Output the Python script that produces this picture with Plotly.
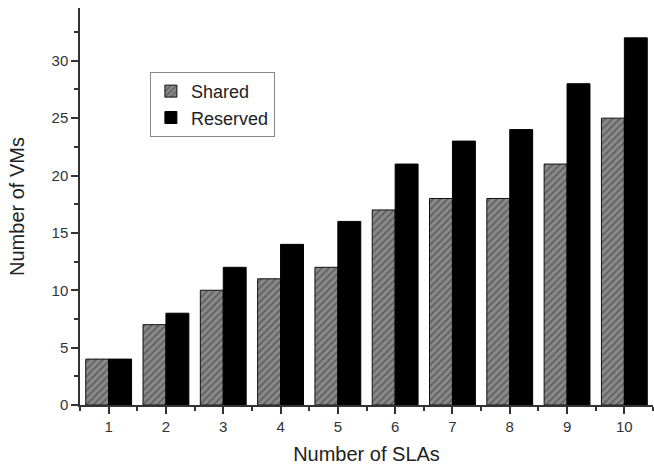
import plotly.graph_objects as go

slas = [1, 2, 3, 4, 5, 6, 7, 8, 9, 10]
shared = [4, 7, 10, 11, 12, 17, 18, 18, 21, 25]
reserved = [4, 8, 12, 14, 16, 21, 23, 24, 28, 32]
y_ticks = [0, 5, 10, 15, 20, 25, 30]

fig = go.Figure()
fig.add_trace(go.Bar(
    x=slas, y=shared, name="Shared",
    marker=dict(color="#8a8a8a", line=dict(color="#111", width=1),
                pattern=dict(shape="/", fgcolor="#3a3a3a", bgcolor="#8a8a8a", size=5, solidity=0.4)),
))
fig.add_trace(go.Bar(
    x=slas, y=reserved, name="Reserved",
    marker=dict(color="#000000", line=dict(color="#000", width=1)),
))

axis_font = dict(family="Liberation Sans, Arial, sans-serif", size=15, color="#333")
fig.update_layout(
    width=654, height=465,
    margin=dict(l=80, r=1, t=8, b=60, autoexpand=False),
    plot_bgcolor="white", paper_bgcolor="white",
    barmode="group", bargap=0.2, bargroupgap=0,
    font=dict(family="Liberation Sans, Arial, sans-serif", color="#222"),
    legend=dict(
        x=0.122, y=0.839, xanchor="left", yanchor="top",
        bordercolor="#888", borderwidth=1, bgcolor="white",
        font=dict(size=18, color="#222"), tracegroupgap=0,
    ),
    showlegend=True,
)
fig.update_xaxes(
    automargin=False,
    range=[0.5, 10.5], tickvals=slas, ticktext=[str(s) for s in slas],
    showline=True, linecolor="#333", linewidth=1.5, mirror=False,
    ticks="outside", ticklen=7, tickcolor="#333", tickwidth=1.5,
    minor=dict(ticks="outside", tick0=0.5, dtick=1, ticklen=4, tickcolor="#333", tickwidth=1.5),
    showgrid=False, zeroline=False, tickfont=axis_font,
    title=dict(text="Number of SLAs", font=dict(size=20, color="#222")),
)
fig.update_yaxes(
    automargin=False,
    range=[0, 34.6], tickvals=y_ticks,
    showline=True, linecolor="#333", linewidth=1.5, mirror=False,
    ticks="outside", ticklen=7, tickcolor="#333", tickwidth=1.5,
    minor=dict(ticks="outside", tick0=2.5, dtick=5, ticklen=4, tickcolor="#333", tickwidth=1.5),
    showgrid=False, zeroline=False, tickfont=axis_font,
    title=dict(text="Number of VMs", font=dict(size=20, color="#222"), standoff=22),
)

fig.write_html("out.html", config={"displayModeBar": False},
               post_script="document.body.style.margin='0';")
